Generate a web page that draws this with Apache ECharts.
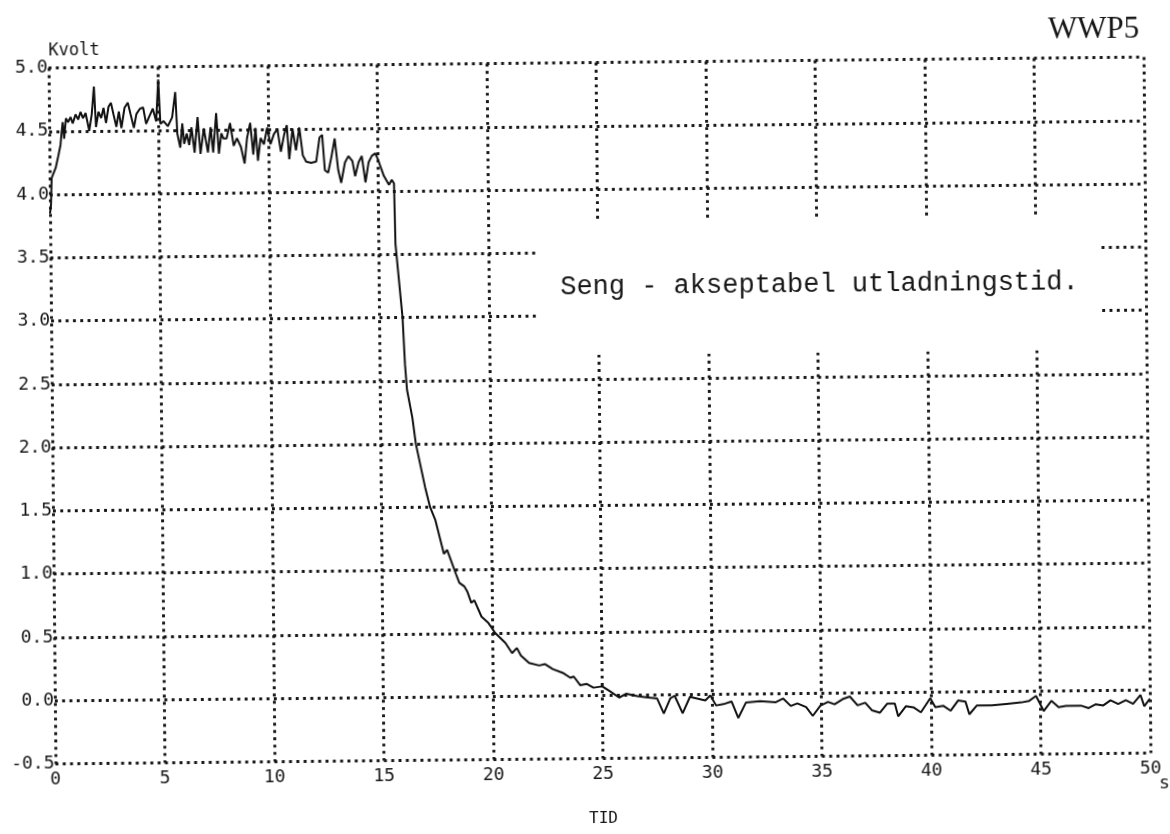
<!DOCTYPE html>
<html>
<head>
<meta charset="utf-8">
<script src="https://cdn.jsdelivr.net/npm/echarts@6/dist/echarts.min.js"></script>
<style>
  html, body { margin: 0; padding: 0; background: #ffffff; }
  #chart {
    width: 1170px; height: 834px;
    transform-origin: 599.5px 410.5px;
    transform: rotate(-0.57deg);
  }
</style>
</head>
<body>
<div id="chart"></div>
<script>
// Discharge recording: time in seconds, voltage in kV
const tSec = [
  0, 0.05, 0.09, 0.28, 0.40, 0.51, 0.56, 0.62, 0.68, 0.77, 0.87, 0.98, 1.08, 1.21, 1.33, 1.44, 1.55, 1.67, 1.83, 1.95,
  2.06, 2.14, 2.26, 2.38, 2.49, 2.60, 2.72, 2.83, 2.94, 3.07, 3.19, 3.30, 3.45, 3.60, 3.72, 3.87, 3.99, 4.15, 4.30, 4.43,
  4.58, 4.74, 4.89, 5.00, 5.08, 5.23, 5.42, 5.62, 5.77, 5.85, 5.98, 6.08, 6.16, 6.28, 6.39, 6.50, 6.63, 6.78, 6.90, 7.06,
  7.24, 7.37, 7.48, 7.63, 7.74, 7.86, 7.95, 8.10, 8.26, 8.42, 8.57, 8.75, 8.91, 9.03, 9.18, 9.31, 9.42, 9.52, 9.65, 9.80,
  9.95, 10.10, 10.26, 10.42, 10.57, 10.72, 10.85, 10.95, 11.11, 11.26, 11.42, 11.57, 11.72, 11.95, 12.18, 12.34, 12.46, 12.57, 12.72, 12.88,
  13.03, 13.18, 13.31, 13.49, 13.65, 13.83, 13.95, 14.11, 14.26, 14.42, 14.57, 14.72, 14.88, 15.00, 15.10, 15.26, 15.34, 15.49, 15.62, 15.72,
  15.76, 15.90, 16.05, 16.14, 16.22, 16.45, 16.60, 17.00, 17.22, 17.45, 17.83, 17.98, 18.37, 18.52, 18.75, 18.88, 19.06, 19.20, 19.52, 19.83,
  20.14, 20.60, 20.90, 21.12, 21.30, 21.67, 22.13, 22.40, 22.75, 23.20, 23.55, 23.70, 24.00, 24.30, 24.60, 25.00, 25.35, 25.77, 26.10, 26.60,
  27.00, 27.50, 27.80, 28.10, 28.30, 28.66, 29.00, 29.70, 29.93, 30.19, 30.53, 30.90, 31.20, 31.55, 32.20, 32.90, 33.25, 33.60, 33.90, 34.30,
  34.60, 34.95, 35.30, 35.60, 35.97, 36.30, 36.65, 37.00, 37.30, 37.67, 38.00, 38.35, 38.50, 38.86, 39.20, 39.54, 39.97, 40.20, 40.56, 40.90,
  41.24, 41.58, 41.75, 42.10, 42.77, 43.45, 44.13, 44.47, 44.80, 45.15, 45.50, 45.83, 46.17, 46.85, 47.20, 47.53, 47.87, 48.20, 48.55, 48.90,
  49.23, 49.57, 49.74, 50.00
];
const kV = [
  3.85, 3.92, 4.13, 4.21, 4.30, 4.39, 4.48, 4.57, 4.44, 4.60, 4.57, 4.61, 4.56, 4.63, 4.59, 4.65, 4.60, 4.64, 4.50, 4.63,
  4.85, 4.53, 4.65, 4.60, 4.68, 4.56, 4.69, 4.72, 4.63, 4.53, 4.65, 4.52, 4.68, 4.72, 4.63, 4.52, 4.63, 4.67, 4.68, 4.55,
  4.61, 4.67, 4.57, 4.90, 4.55, 4.57, 4.53, 4.60, 4.80, 4.47, 4.36, 4.55, 4.39, 4.47, 4.38, 4.52, 4.32, 4.60, 4.31, 4.51,
  4.32, 4.52, 4.32, 4.63, 4.31, 4.47, 4.43, 4.43, 4.55, 4.37, 4.43, 4.36, 4.23, 4.43, 4.55, 4.30, 4.51, 4.25, 4.43, 4.38,
  4.51, 4.38, 4.46, 4.50, 4.32, 4.45, 4.53, 4.26, 4.50, 4.33, 4.51, 4.29, 4.24, 4.23, 4.24, 4.43, 4.45, 4.17, 4.15, 4.28,
  4.42, 4.17, 4.07, 4.23, 4.28, 4.24, 4.12, 4.23, 4.28, 4.07, 4.23, 4.28, 4.30, 4.25, 4.20, 4.12, 4.11, 4.05, 4.09, 4.06,
  3.58, 3.30, 3.00, 2.63, 2.43, 2.21, 2.00, 1.66, 1.50, 1.40, 1.13, 1.16, 0.97, 0.90, 0.87, 0.83, 0.74, 0.76, 0.63, 0.58,
  0.50, 0.42, 0.34, 0.38, 0.32, 0.26, 0.24, 0.25, 0.21, 0.18, 0.14, 0.15, 0.08, 0.09, 0.06, 0.07, 0.03, -0.02, 0.01, -0.01,
  -0.02, -0.03, -0.15, -0.03, -0.01, -0.15, -0.02, -0.05, -0.01, -0.09, -0.08, -0.06, -0.19, -0.07, -0.06, -0.07, -0.04, -0.10, -0.08, -0.11,
  -0.18, -0.10, -0.07, -0.09, -0.05, -0.03, -0.10, -0.08, -0.14, -0.16, -0.09, -0.09, -0.19, -0.11, -0.12, -0.16, -0.05, -0.12, -0.11, -0.15,
  -0.07, -0.08, -0.18, -0.11, -0.11, -0.10, -0.09, -0.08, -0.04, -0.16, -0.08, -0.13, -0.12, -0.12, -0.14, -0.11, -0.12, -0.08, -0.11, -0.08,
  -0.11, -0.04, -0.13, -0.07
];
const xTicks = [0, 5, 10, 15, 20, 25, 30, 35, 40, 45, 50];
const yTicks = ['-0.5', '0.0', '0.5', '1.0', '1.5', '2.0', '2.5', '3.0', '3.5', '4.0', '4.5', '5.0'];
const plotTitle = 'WWP5';
const noteText = 'Seng - akseptabel utladningstid.';

const ink = '#161616';
const monoFont = '"DejaVu Sans Mono", "Liberation Mono", monospace';
const dotted = { color: ink, width: 2.9, type: [2.9, 4.4], cap: 'butt' };

const points = tSec.map((t, i) => [t, kV[i]]);

const chart = echarts.init(document.getElementById('chart'), null, { renderer: 'canvas' });
chart.setOption({
  backgroundColor: '#ffffff',
  animation: false,
  grid: { left: 52, right: 23, top: 62.5, bottom: 75.5 },
  title: {
    text: plotTitle,
    right: 22, top: 14,
    textStyle: { fontFamily: '"Liberation Serif", "DejaVu Serif", serif', fontSize: 31, fontWeight: 'normal', color: ink }
  },
  xAxis: {
    type: 'value',
    min: xTicks[0], max: xTicks[xTicks.length - 1], interval: 5,
    name: 'TID', nameLocation: 'middle', nameGap: 52,
    nameTextStyle: { fontFamily: monoFont, fontSize: 16, color: ink },
    axisLine: { show: false }, axisTick: { show: false },
    axisLabel: { margin: 7, fontFamily: monoFont, fontSize: 18, color: ink,
      formatter: v => String(v) },
    splitLine: { show: true, showMinLine: true, showMaxLine: true, lineStyle: dotted }
  },
  yAxis: {
    type: 'value',
    min: -0.5, max: 5, interval: 0.5,
    name: 'Kvolt', nameLocation: 'end', nameGap: 4,
    nameTextStyle: { fontFamily: monoFont, fontSize: 17, color: ink, align: 'left', verticalAlign: 'bottom' },
    axisLine: { show: false }, axisTick: { show: false },
    axisLabel: { margin: 1, fontFamily: monoFont, fontSize: 18, color: ink,
      formatter: v => yTicks[Math.round((v + 0.5) / 0.5)] },
    splitLine: { show: true, showMinLine: true, showMaxLine: true, lineStyle: dotted }
  },
  graphic: [
    { type: 'text', right: 4, top: 780,
      style: { text: 's', fontFamily: monoFont, fontSize: 18, fill: ink } }
  ],
  series: [{
    type: 'line',
    data: points,
    showSymbol: false,
    smooth: false,
    lineStyle: { color: '#111111', width: 2 },
    markArea: {
      silent: true,
      itemStyle: { color: '#ffffff', opacity: 1 },
      label: {
        show: true, position: 'inside',
        fontFamily: '"Liberation Mono", "DejaVu Sans Mono", monospace',
        fontSize: 27, color: ink
      },
      data: [[
        { name: noteText, xAxis: 22.3, yAxis: 3.76 },
        { xAxis: 47.9, yAxis: 2.69 }
      ]]
    }
  }]
});
</script>
</body>
</html>
